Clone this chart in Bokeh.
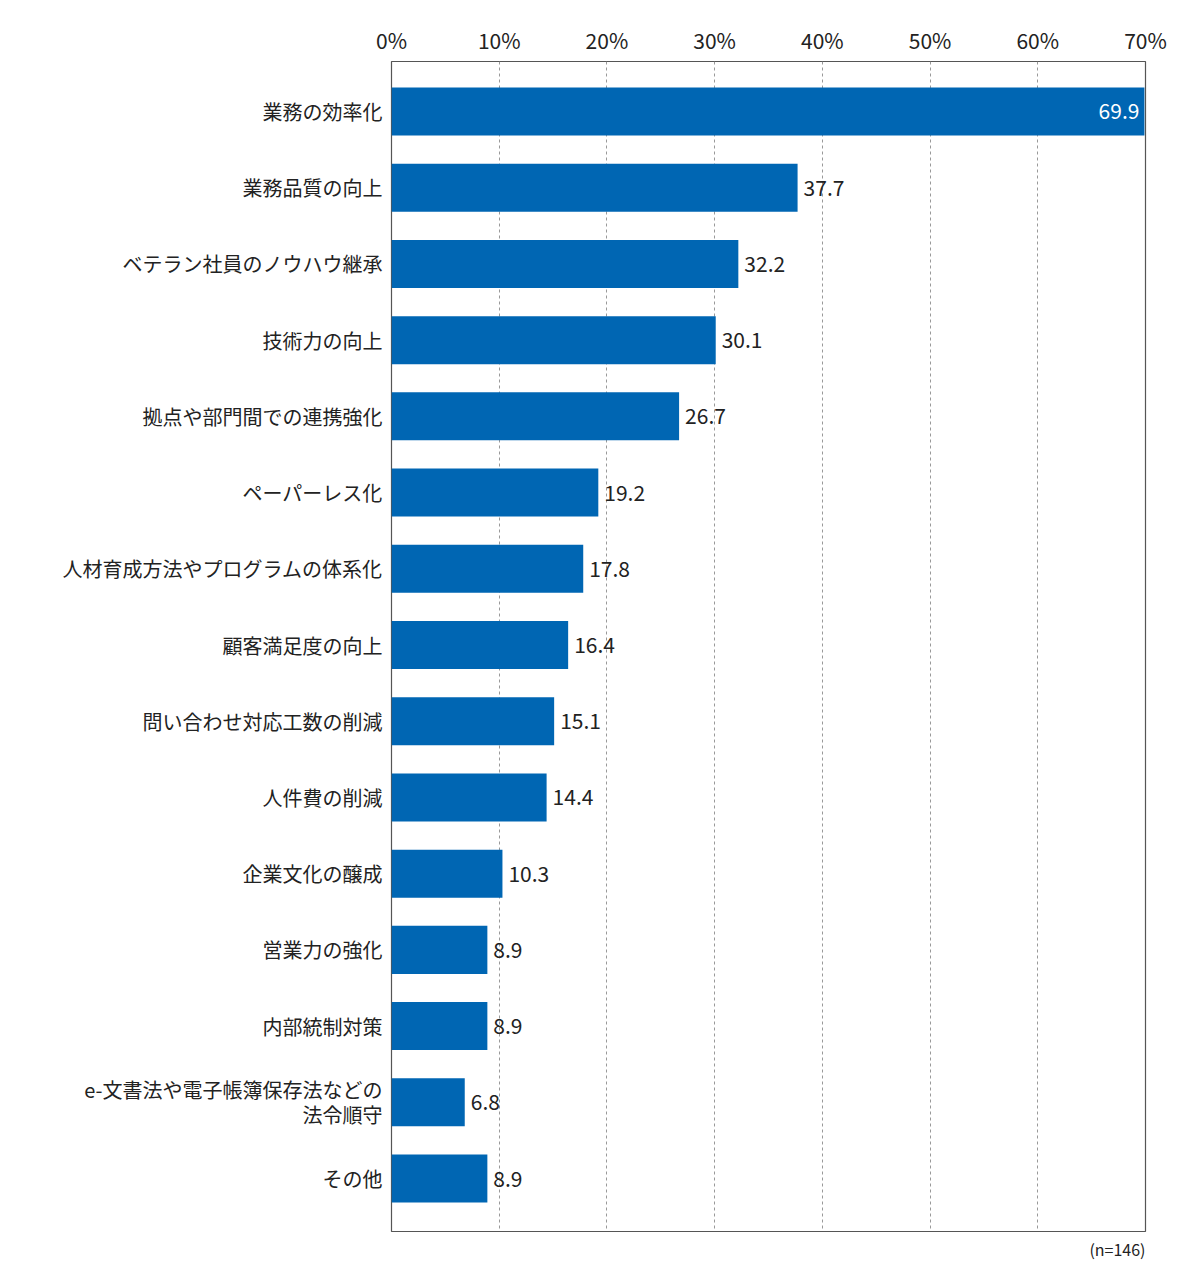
from bokeh.plotting import figure
from bokeh.models import Range1d, ColumnDataSource, FixedTicker, LabelSet, Title
from bokeh.core.properties import value
from bokeh.embed import file_html
from bokeh.resources import INLINE

categories = [
    "業務の効率化",
    "業務品質の向上",
    "ベテラン社員のノウハウ継承",
    "技術力の向上",
    "拠点や部門間での連携強化",
    "ペーパーレス化",
    "人材育成方法やプログラムの体系化",
    "顧客満足度の向上",
    "問い合わせ対応工数の削減",
    "人件費の削減",
    "企業文化の醸成",
    "営業力の強化",
    "内部統制対策",
    "e-文書法や電子帳簿保存法などの\n法令順守",
    "その他",
]
values = [69.9, 37.7, 32.2, 30.1, 26.7, 19.2, 17.8, 16.4, 15.1, 14.4, 10.3, 8.9, 8.9, 6.8, 8.9]
x_ticks = [0, 10, 20, 30, 40, 50, 60, 70]
tick_labels = ["0%", "10%", "20%", "30%", "40%", "50%", "60%", "70%"]
note = "(n=146)"

FONT = "Noto Sans CJK JP"
BLUE = "#0066b3"

idx = list(range(len(categories)))
inside = [i == 0 for i in idx]

src_out = ColumnDataSource(dict(
    y=[i for i in idx if not inside[i]],
    x=[values[i] for i in idx if not inside[i]],
    t=[f"{values[i]:.1f}" for i in idx if not inside[i]],
))
src_in = ColumnDataSource(dict(
    y=[i for i in idx if inside[i]],
    x=[values[i] for i in idx if inside[i]],
    t=[f"{values[i]:.1f}" for i in idx if inside[i]],
))

p = figure(
    width=1192, height=1273,
    x_range=Range1d(0, 70),
    y_range=Range1d(14.695, -0.656),
    x_axis_location="above",
    output_backend="svg", toolbar_location=None,
    min_border_left=391, min_border_right=47, min_border_top=61, min_border_bottom=42,
)
p.hbar(y=idx, right=values, left=0, height=0.63, fill_color=BLUE, line_color=None)

p.add_layout(LabelSet(x="x", y="y", text="t", source=src_out, x_offset=6, text_align="left",
                      text_baseline="middle", text_font=value(FONT), text_font_size="21px",
                      text_color="#222222"))
p.add_layout(LabelSet(x="x", y="y", text="t", source=src_in, x_offset=-5, text_align="right",
                      text_baseline="middle", text_font=value(FONT), text_font_size="21px",
                      text_color="white"))

p.xaxis.ticker = FixedTicker(ticks=x_ticks)
p.xaxis.major_label_overrides = {t: l for t, l in zip(x_ticks, tick_labels)}
p.xaxis.major_label_text_font = FONT
p.xaxis.major_label_text_font_size = "21px"
p.xaxis.major_label_text_color = "#222222"
p.xaxis.major_label_standoff = 1
p.xaxis.major_tick_line_color = None
p.xaxis.minor_tick_line_color = None
p.xaxis.axis_line_color = None

p.yaxis.ticker = FixedTicker(ticks=idx)
p.yaxis.major_label_overrides = {i: c for i, c in zip(idx, categories)}
p.yaxis.major_label_text_font = FONT
p.yaxis.major_label_text_font_size = "20px"
p.yaxis.major_label_text_line_height = 0.85
p.yaxis.major_label_text_color = "#222222"
p.yaxis.major_label_standoff = 3
p.yaxis.major_tick_line_color = None
p.yaxis.minor_tick_line_color = None
p.yaxis.axis_line_color = None

p.ygrid.grid_line_color = None
p.xgrid.grid_line_color = "#999999"
p.xgrid.grid_line_dash = "3 3"
p.xgrid.grid_line_width = 1

p.outline_line_color = "#555555"
p.outline_line_width = 1.2
p.background_fill_color = "white"
p.border_fill_color = "white"

p.add_layout(Title(text=note, align="right", text_font=FONT, text_font_size="16px",
                   text_font_style="normal", text_color="#222222", standoff=6), "below")

open("out.html", "w").write(file_html(p, INLINE))
